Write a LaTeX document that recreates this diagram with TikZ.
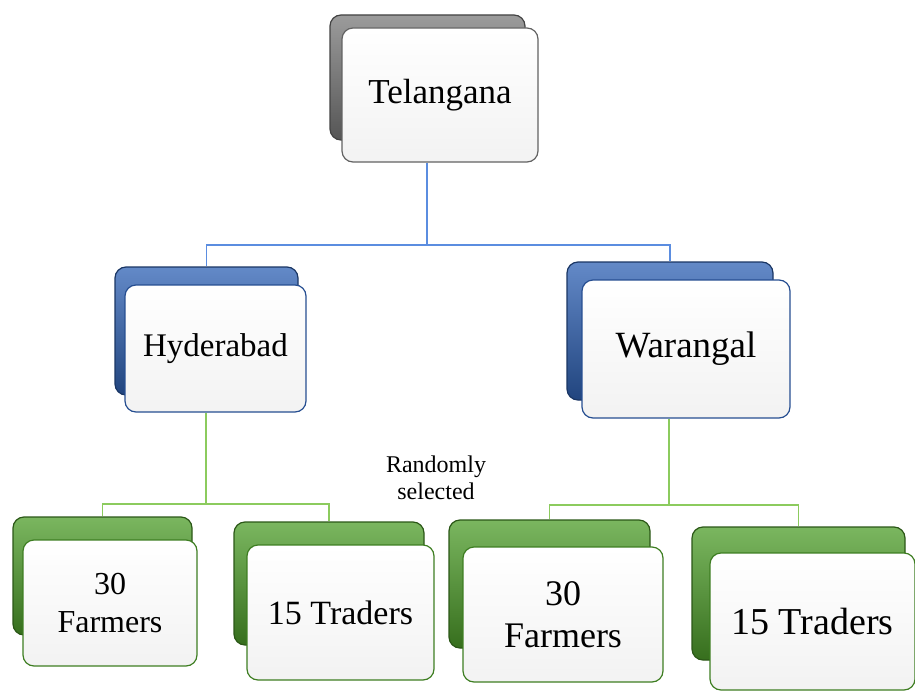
\documentclass[tikz,border=0pt]{standalone}
\usepackage{fontspec}
\setmainfont{Liberation Serif}
\usepackage{tikz}
\usetikzlibrary{positioning,calc,backgrounds}
\definecolor{cardgray}{HTML}{7A7A7A}
\definecolor{cardblue}{HTML}{2F62B5}
\definecolor{cardgreen}{HTML}{4E9E2A}
\definecolor{lineblue}{HTML}{5B8DE0}
\definecolor{linegreen}{HTML}{8CCB5E}
\tikzset{
  card/.style = {align=center, inner sep=0pt, rounded corners=11pt},
  card_back/.style = {card, draw=#1!55!black, line width=1.2pt,
    top color=#1!75!white, bottom color=#1!70!black},% carte arriere
  card_front/.style = {card, draw=#1!80!black, line width=1.2pt,
    top color=white, bottom color=gray!10},% carte avant, texte
  link_b/.style = {draw=lineblue, line width=1.4pt},
  link_g/.style = {draw=linegreen, line width=1.4pt}
}

\begin{document}
\begin{tikzpicture}[x=1pt,y=-1pt]
\useasboundingbox (0,0) rectangle (915,693);
% etat
\node [card_back=cardgray, minimum width=195pt, minimum height=125pt] (tel_b) at (427.5,77.5) {};
% districts
\node [card_back=cardblue, minimum width=183pt, minimum height=128pt] (hyd_b) at (206.5,331) {};
\node [card_back=cardblue, minimum width=206pt, minimum height=138pt] (war_b) at (670,331) {};
% echantillons
\node [card_back=cardgreen, minimum width=179pt, minimum height=118pt] (hf_b) at (102.5,576) {};
\node [card_back=cardgreen, minimum width=190pt, minimum height=123pt] (ht_b) at (329,583.5) {};
\node [card_back=cardgreen, minimum width=201pt, minimum height=128pt] (wf_b) at (549.5,584) {};
\node [card_back=cardgreen, minimum width=213pt, minimum height=133pt] (wt_b) at (798.5,593.5) {};

\node [card_front=cardgray, minimum width=196pt, minimum height=134pt,
  font=\fontsize{35}{40}\selectfont] (tel) at (440,95) {Telangana};
\node [card_front=cardblue, minimum width=181pt, minimum height=127pt,
  font=\fontsize{33}{38}\selectfont] (hyd) at (215.5,348.5) {Hyderabad};
\node [card_front=cardblue, minimum width=208pt, minimum height=138pt,
  font=\fontsize{37}{42}\selectfont] (war) at (686,349) {Warangal};
\node [card_front=cardgreen, minimum width=174pt, minimum height=126pt,
  font=\fontsize{32}{38}\selectfont] (hf) at (110,603) {30\\Farmers};
\node [card_front=cardgreen, minimum width=187pt, minimum height=135pt,
  font=\fontsize{34}{40}\selectfont] (ht) at (340.5,612.5) {15 Traders};
\node [card_front=cardgreen, minimum width=200pt, minimum height=135pt,
  font=\fontsize{36}{42}\selectfont] (wf) at (563,614.5) {30\\Farmers};
\node [card_front=cardgreen, minimum width=205pt, minimum height=137pt,
  font=\fontsize{38}{44}\selectfont] (wt) at (812.5,621.5) {15 Traders};

\node [align=center, font=\fontsize{24}{27}\selectfont] (rnd) at (436,478) {Randomly\\selected};

% connecteurs, derriere les cartes
\coordinate (tel_j) at (427,245);
\coordinate (hyd_j) at (206,504);
\coordinate (war_j) at (669,505);
\begin{scope}[on background layer]
\draw [link_b] (tel.south -| tel_j) -- (tel_j);
\draw [link_b] (hyd_b.north) |- (tel_j) -| (war_b.north);
\draw [link_g] (hyd.south -| hyd_j) -- (hyd_j);
\draw [link_g] (hf_b.north) |- (hyd_j) -| (ht_b.north);
\draw [link_g] (war.south -| war_j) -- (war_j);
\draw [link_g] (wf_b.north) |- (war_j) -| (wt_b.north);
\end{scope}
\end{tikzpicture}
\end{document}
